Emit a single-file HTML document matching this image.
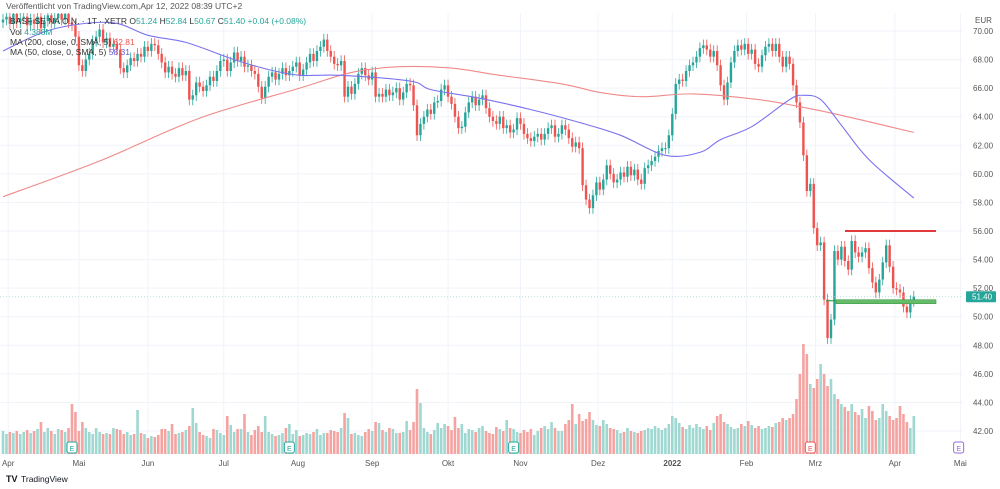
<!DOCTYPE html>
<html><head><meta charset="utf-8"><style>
html,body{margin:0;padding:0;background:#fff;}
svg{display:block;font-family:"Liberation Sans",sans-serif;}
</style></head><body>
<svg id="chart" width="1000" height="489" viewBox="0 0 1000 489" xmlns="http://www.w3.org/2000/svg">
<defs><clipPath id="plotclip"><rect x="0" y="13" width="963" height="442"/></clipPath></defs>
<rect x="0" y="0" width="1000" height="489" fill="#fff"/>
<g id="grid"></g>
<g id="vol" clip-path="url(#plotclip)"></g>
<g id="candles" clip-path="url(#plotclip)"></g>
<g id="mas" clip-path="url(#plotclip)"></g>
<g id="draw"></g>
<g id="yaxis"></g>
<g id="xaxis"></g>
<text x="6" y="9" font-size="8.5" fill="#555">Veröffentlicht von TradingView.com,Apr 12, 2022 08:39 UTC+2</text>
<g font-size="8.5">
<text x="10" y="24" fill="#333">BASF SE NA O.N. · 1T · XETR  O<tspan fill="#26a69a">51.24</tspan> H<tspan fill="#26a69a">52.84</tspan> L<tspan fill="#26a69a">50.67</tspan> C<tspan fill="#26a69a">51.40</tspan> <tspan fill="#26a69a">+0.04 (+0.08%)</tspan></text>
<text x="10" y="35" fill="#333">Vol <tspan fill="#26a69a">4.388M</tspan></text>
<text x="10" y="45" fill="#333">MA (200, close, 0, SMA, 5) <tspan fill="#ef5350">62.81</tspan></text>
<text x="10" y="55" fill="#333">MA (50, close, 0, SMA, 5) <tspan fill="#5b5bd6">58.31</tspan></text>
</g>
<g>
<text x="6" y="482" font-size="9" font-weight="bold" fill="#131722">TV</text>
<text x="21" y="482" font-size="8.5" fill="#131722">TradingView</text>
</g>
</svg>
<script>
const closes=[70.8,71,70.5,71.2,70.6,70.9,71,70.4,70.8,70.5,71,70.2,70.7,71.1,70.6,70.9,71.2,70.8,71.2,70.6,70.4,69.6,67.6,67.2,68,68.4,69.3,69.6,70.1,69.2,
69.5,68.9,69.1,68.7,67.4,67.1,67.6,68.1,67.9,68.4,68.2,68.9,68.6,69.1,69.0,68.4,67.8,67.1,67.5,67.0,66.8,67.4,66.9,67.2,65.2,65.5,66.4,66.1,65.8,66.2,
66.8,66.5,67.2,67.9,68.0,67.2,67.8,68.5,67.9,68.2,67.5,67.6,67.2,67.0,66.1,65.3,66.1,66.8,67.1,66.6,67.0,67.4,66.9,67.2,67.5,67.8,66.9,67.3,67.8,68.4,
67.9,68.6,68.9,69.4,68.6,68.2,67.7,67.6,67.9,65.4,66.1,65.6,66.3,67.0,67.4,66.9,66.6,67.1,65.4,65.6,65.4,65.9,65.5,65.7,66.0,65.2,65.7,66.3,66.2,64.8,
62.7,63.5,64.0,64.5,64.2,65.0,65.1,65.9,66.2,65.4,64.9,64.0,63.2,63.3,64.3,65.0,65.4,64.8,65.2,65.5,64.6,64.0,63.7,63.5,64.0,63.2,63.4,62.9,63.1,63.9,
63.5,62.8,62.5,62.3,62.6,62.8,62.4,62.8,63.2,63.4,62.6,62.8,63.4,63.1,62.5,61.9,62.2,61.8,59.2,58.2,57.6,58.5,59.4,58.9,59.6,60.6,60.0,59.4,59.6,60.1,
59.8,60.5,59.9,60.3,59.6,59.3,60.4,60.6,60.9,61.2,61.6,61.8,61.8,62.7,64.2,66.3,66.6,66.5,67.2,67.6,67.8,68.2,68.8,69.0,68.7,68.2,68.6,67.6,66.2,65.2,
66.4,67.8,68.6,69.0,68.7,69.1,68.4,68.7,67.7,67.5,68.3,68.9,69.1,68.6,69.1,68.2,67.5,68.2,67.7,66.2,65.0,63.6,61.3,58.8,59.3,56.2,55.0,55.2,51.2,48.5,
49.8,54.6,54.0,54.9,53.9,53.3,55.3,54.5,54.2,54.5,54.8,53.4,52.4,51.7,52.6,53.8,55.0,53.5,52.0,51.9,51.7,50.7,50.3,51.1,51.4];
const volumes=[2.3,2.0,2.2,2.1,2.3,2.0,2.2,2.4,2.1,2.3,2.5,3.2,2.2,2.6,2.3,2.0,2.5,2.4,2.2,2.6,5.0,4.2,2.3,3.2,2.6,2.2,2.0,2.6,2.2,2.0,
2.1,2.0,2.6,2.5,2.4,2.0,2.2,1.9,2.0,4.4,2.1,2.0,1.6,1.8,1.7,1.9,2.5,2.5,2.3,3.0,2.0,2.1,2.2,2.4,2.8,4.6,3.1,2.2,1.9,1.8,
1.6,2.5,2.4,2.1,1.9,3.8,2.9,2.2,2.5,2.5,4.0,2.2,1.9,2.4,2.8,2.2,3.8,2.2,2.0,1.8,1.9,2.1,2.6,3.0,2.0,2.4,1.8,1.9,2.1,2.0,
2.2,2.5,1.9,2.1,2.1,2.4,2.3,2.2,2.6,4.1,3.6,2.0,2.1,1.9,1.8,2.2,2.5,2.3,3.2,3.1,2.4,2.2,2.6,2.5,2.1,2.1,2.2,3.3,2.4,3.2,
6.5,5.1,2.6,2.2,2.0,2.4,3.1,2.6,3.0,2.8,2.4,3.7,2.6,3.0,2.1,2.5,2.4,2.2,2.6,2.8,2.3,2.1,2.0,2.7,2.5,2.3,3.4,2.6,2.5,2.2,
2.1,2.4,2.2,2.5,1.9,2.3,2.6,2.8,2.5,3.2,2.6,2.3,2.3,3.0,3.4,5.0,3.0,4.0,3.3,3.5,4.2,3.4,2.9,2.8,3.4,3.0,2.6,2.5,2.4,2.1,
2.2,2.6,2.3,2.2,2.1,2.3,2.4,2.6,2.5,2.8,2.6,2.4,2.6,3.0,3.8,3.6,3.1,2.7,2.5,2.9,2.6,3.0,2.7,2.5,2.8,2.4,3.1,3.8,4.0,3.2,
3.0,2.7,2.5,2.6,3.0,2.8,3.3,2.9,2.6,2.8,2.5,2.6,2.8,2.7,3.1,3.2,3.6,3.4,3.6,4.0,5.5,8.0,11.0,10.0,7.0,6.6,7.5,9.0,8.0,6.8,
7.5,6.0,5.5,5.0,4.7,4.3,5.0,4.2,3.9,4.5,3.6,4.8,4.3,3.4,3.6,5.0,4.3,3.8,3.4,3.6,4.8,4.0,3.2,2.6,3.8];
const ma200Idx=[0,28,57,86,101,115,130,144,162,173,185,200,219,231,243,264];
const ma200Val=[58.4,60.9,63.9,66.0,67.1,67.5,67.4,66.9,66.3,65.7,65.4,65.6,65.2,64.7,64.1,62.9];
const ma50Idx=[0,14,31,42,53,67,77,86,98,118,124,138,153,167,179,192,202,208,217,228,232,237,243,251,264];
const ma50Val=[68.6,70.1,70.6,69.7,69.2,68.0,67.3,66.9,66.9,66.5,65.9,65.3,64.5,63.6,62.7,61.3,61.5,62.4,63.3,65.2,65.5,65.2,63.4,61.0,58.3];
const priceTicks=[42,44,46,48,50,52,54,56,58,60,62,64,66,68,70];
const monthLabels=["Apr","Mai","Jun","Jul","Aug","Sep","Okt","Nov","Dez","2022","Feb","Mrz","Apr","Mai"];
const monthIdx=[1.5,22,42,64,85.5,107,129,150,172.5,194,215.5,235.5,258.5,277.5];
const earningsIdx=[20,83,148,234,277];
const lastPrice=51.40, resistance=56.0, support=51.05;

const NS="http://www.w3.org/2000/svg";
const xS=i=>3+i*3.45;
const yS=p=>31+(70-p)*400/28;
const vS=v=>454-v*10;
function mk(tag,attrs,parent){const e=document.createElementNS(NS,tag);for(const k in attrs)e.setAttribute(k,attrs[k]);parent.appendChild(e);return e;}
const G=id=>document.getElementById(id);
priceTicks.forEach(p=>{const l=mk('line',{x1:0,x2:963,y1:yS(p),y2:yS(p),stroke:'#f0f3fa','stroke-width':1},G('grid'));

});
monthIdx.forEach(i=>{const l=mk('line',{x1:xS(i),x2:xS(i),y1:13,y2:455,stroke:'#f0f3fa','stroke-width':1},G('grid'));

});
for(let i=0;i<closes.length;i++){
 const c=closes[i], o=i>0?closes[i-1]:closes[0]-0.2;
 const up=c>=o, col=up?'#26a69a':'#ef5350';
 const hi=Math.max(o,c)+0.4, lo=Math.min(o,c)-0.4;
 const x=xS(i);
 const w=mk('line',{x1:x,x2:x,y1:yS(hi),y2:yS(lo),stroke:col,'stroke-width':0.8},G('candles'));
 
 
 const top=yS(Math.max(o,c)), h=Math.max(1,yS(Math.min(o,c))-top);
 const b=mk('rect',{x:x-1.2,y:top,width:2.4,height:h,fill:col},G('candles'));
 
 
 const vb=mk('rect',{x:x-1.3,y:vS(volumes[i]),width:2.6,height:454-vS(volumes[i]),fill:up?'#9fd8d1':'#f5a3a1'},G('vol'));
 
 
}
function line(idx,val,col,name){
 const P=idx.map((i,k)=>[xS(i),yS(val[k])]);
 let d='M'+P[0][0].toFixed(1)+' '+P[0][1].toFixed(1);
 for(let k=0;k<P.length-1;k++){
  const p0=P[Math.max(0,k-1)],p1=P[k],p2=P[k+1],p3=P[Math.min(P.length-1,k+2)];
  const c1=[p1[0]+(p2[0]-p0[0])/6,p1[1]+(p2[1]-p0[1])/6];
  const c2=[p2[0]-(p3[0]-p1[0])/6,p2[1]-(p3[1]-p1[1])/6];
  d+=' C'+c1[0].toFixed(1)+' '+c1[1].toFixed(1)+' '+c2[0].toFixed(1)+' '+c2[1].toFixed(1)+' '+p2[0].toFixed(1)+' '+p2[1].toFixed(1);
 }
 const p=mk('path',{d:d,fill:'none',stroke:col,'stroke-width':1.1,'stroke-linejoin':'round'},G('mas'));
 
 
}
line(ma200Idx,ma200Val,'#f08a8a','ma200-line');
line(ma50Idx,ma50Val,'#7b72ee','ma50-line');
const dl=mk('line',{x1:0,x2:963,y1:yS(lastPrice),y2:yS(lastPrice),stroke:'#9fd8d1','stroke-width':0.8,'stroke-dasharray':'1 2'},G('draw'));


const rl=mk('line',{x1:845,x2:936,y1:yS(resistance),y2:yS(resistance),stroke:'#e03a3a','stroke-width':2},G('draw'));


const sl=mk('rect',{x:836,y:yS(support)-2,width:100,height:4,fill:'#66bb6a',stroke:'#3e9e44','stroke-width':0.6},G('draw'));


const sl2=mk('line',{x1:826,x2:836,y1:yS(support)-1,y2:yS(support)-1,stroke:'#3e9e44','stroke-width':1.2},G('draw'));


earningsIdx.forEach((i,k)=>{
 const col=k===3?'#ef5350':(k===4?'#9c6ade':'#26a69a');
 const g=mk('g',{},G('draw'));
 
 
 mk('rect',{x:xS(i)-5,y:442,width:10,height:11,rx:2,fill:'#fff',stroke:col,'stroke-width':1},g);
 const t=mk('text',{x:xS(i),y:451,'font-size':7,'text-anchor':'middle',fill:col},g);t.textContent='E';
});
const ya=G('yaxis');
const eur=mk('text',{x:975,y:23,'font-size':8,fill:'#555'},ya);eur.textContent='EUR';
priceTicks.forEach(p=>{const t=mk('text',{x:973,y:yS(p)+3,'font-size':8,fill:'#555'},ya);t.textContent=p.toFixed(2);

});
const lb=mk('rect',{x:966,y:yS(lastPrice)-5.5,width:30,height:11,rx:1,fill:'#26a69a'},ya);


const lt=mk('text',{x:972,y:yS(lastPrice)+3,'font-size':8,fill:'#fff'},ya);lt.textContent=lastPrice.toFixed(2);
monthLabels.forEach((m,k)=>{const t=mk('text',{x:xS(monthIdx[k]),y:466,'font-size':8,fill:'#555','text-anchor':'middle','font-weight':m==='2022'?'bold':'normal'},G('xaxis'));
t.textContent=m;

});
</script>
</body></html>
